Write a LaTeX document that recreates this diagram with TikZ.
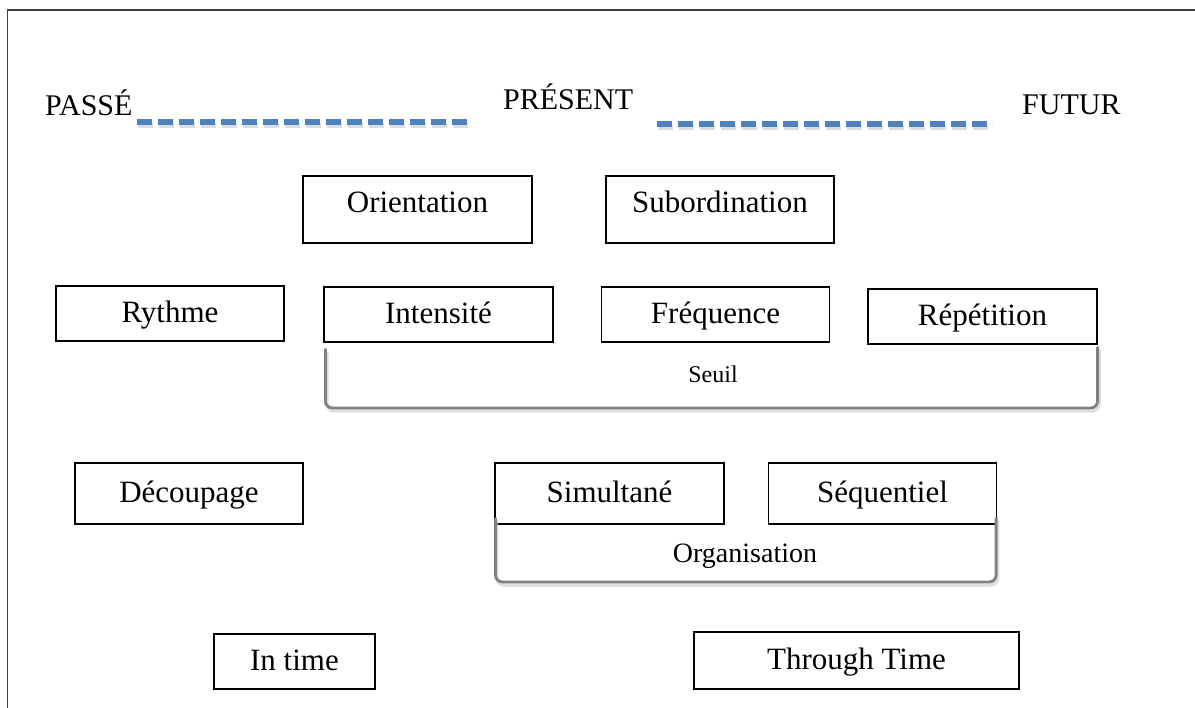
\documentclass[tikz,border=0pt]{standalone}
\usepackage{fontspec}
\setmainfont{Liberation Serif}
\usetikzlibrary{calc}
\definecolor{timeblue}{HTML}{4F81BD}
\definecolor{bracegray}{HTML}{808080}
\definecolor{framegray}{HTML}{404040}
\begin{document}
\begin{tikzpicture}[x=1pt,y=-1pt,
  % concept boxes
  box/.style={draw, line width=1.2pt, inner sep=0pt,
    font=\fontsize{31}{36}\selectfont, text height=20pt, text depth=2pt,
    minimum width=229pt, minimum height=55pt},
  highbox/.style={box, text depth=13pt, minimum height=67pt},
  % period labels on the time line
  period/.style={font=\fontsize{30}{36}\selectfont, inner sep=0pt, anchor=base west},
  % blue dashed time line and its soft shadow
  timeline/.style={timeblue, line width=6pt, dash pattern=on 15pt off 6pt},
  timeshadow/.style={black!30, opacity=0.45, line width=5pt, dash pattern=on 15pt off 6pt},
  % grey grouping brackets
  grouping/.style={bracegray, line width=2.8pt, rounded corners=7pt},
  groupshadow/.style={black!25, opacity=0.5, line width=3.5pt, rounded corners=7pt},
  grouplabel/.style={inner sep=0pt, anchor=base}
]
\useasboundingbox (0,0) rectangle (1195,708);

% outer frame (open to the right and bottom)
\draw[framegray, line width=1.6pt] (7.5,708) -- (7.5,10) -- (1195,10);

% time axis
\node[period] (passe)   at (45,116)   {PASSÉ};
\node[period] (present) at (503,110)  {PRÉSENT};
\node[period] (futur)   at (1022,115) {FUTUR};
\coordinate (t1a) at (137,122);
\coordinate (t1b) at (472,122);
\coordinate (t2a) at (657,124);
\coordinate (t2b) at (993,124);
\draw[timeshadow] ([shift={(1pt,-4pt)}]t1a) -- ([shift={(1pt,-4pt)}]t1b);
\draw[timeshadow] ([shift={(1pt,-4pt)}]t2a) -- ([shift={(1pt,-4pt)}]t2b);
\draw[timeline] (t1a) -- (t1b);
\draw[timeline] (t2a) -- (t2b);

% first row
\node[highbox] (orientation)   at (417.5,209.5) {Orientation};
\node[highbox, minimum width=228pt] (subordination) at (720,209.5) {Subordination};

% second row
\node[box, minimum width=228pt] (rythme)    at (170,313.5)   {Rythme};
\node[box]                      (intensite) at (438.5,314.5) {Intensité};
\node[box, minimum width=228pt] (frequence) at (715.5,314.5) {Fréquence};
\node[box]                      (repetition) at (982.5,316.5) {Répétition};

% bracket grouping the threshold notions
\coordinate (seuilL) at ([shift={(2pt,-6pt)}]intensite.south west);
\coordinate (seuilR) at ([yshift=-2pt]repetition.south east);
\coordinate (seuilB) at (711,408);
\draw[groupshadow] ([shift={(1.5pt,-3pt)}]seuilL) |- ([shift={(1.5pt,-3pt)}]seuilB) -| ([shift={(1.5pt,-3pt)}]seuilR);
\draw[grouping] (seuilL) |- (seuilB) -| (seuilR);
\node[grouplabel, font=\fontsize{24}{29}\selectfont] (seuil) at (713,383) {Seuil};

% third row
\node[box, minimum width=228pt, minimum height=61pt] (decoupage)  at (189,493.5)   {Découpage};
\node[box, minimum height=61pt]                      (simultane)  at (609.5,493.5) {Simultané};
\node[box, minimum width=228pt, minimum height=61pt] (sequentiel) at (882.5,493.5) {Séquentiel};

% bracket grouping the organisation modes
\coordinate (orgL) at ([shift={(1pt,7pt)}]simultane.south west);
\coordinate (orgR) at ([shift={(-1pt,7pt)}]sequentiel.south east);
\coordinate (orgB) at (745,582);
\draw[groupshadow] ([shift={(1.5pt,-3pt)}]orgL) |- ([shift={(1.5pt,-3pt)}]orgB) -| ([shift={(1.5pt,-3pt)}]orgR);
\draw[grouping] (orgL) |- (orgB) -| (orgR);
\node[grouplabel, font=\fontsize{28}{33}\selectfont] (organisation) at (745,562) {Organisation};

% bottom row
\node[box, minimum width=161pt] (intime)      at (294.5,661.5) {In time};
\node[box, minimum width=325pt, minimum height=57pt] (throughtime) at (856.5,660.5) {Through Time};
\end{tikzpicture}
\end{document}
